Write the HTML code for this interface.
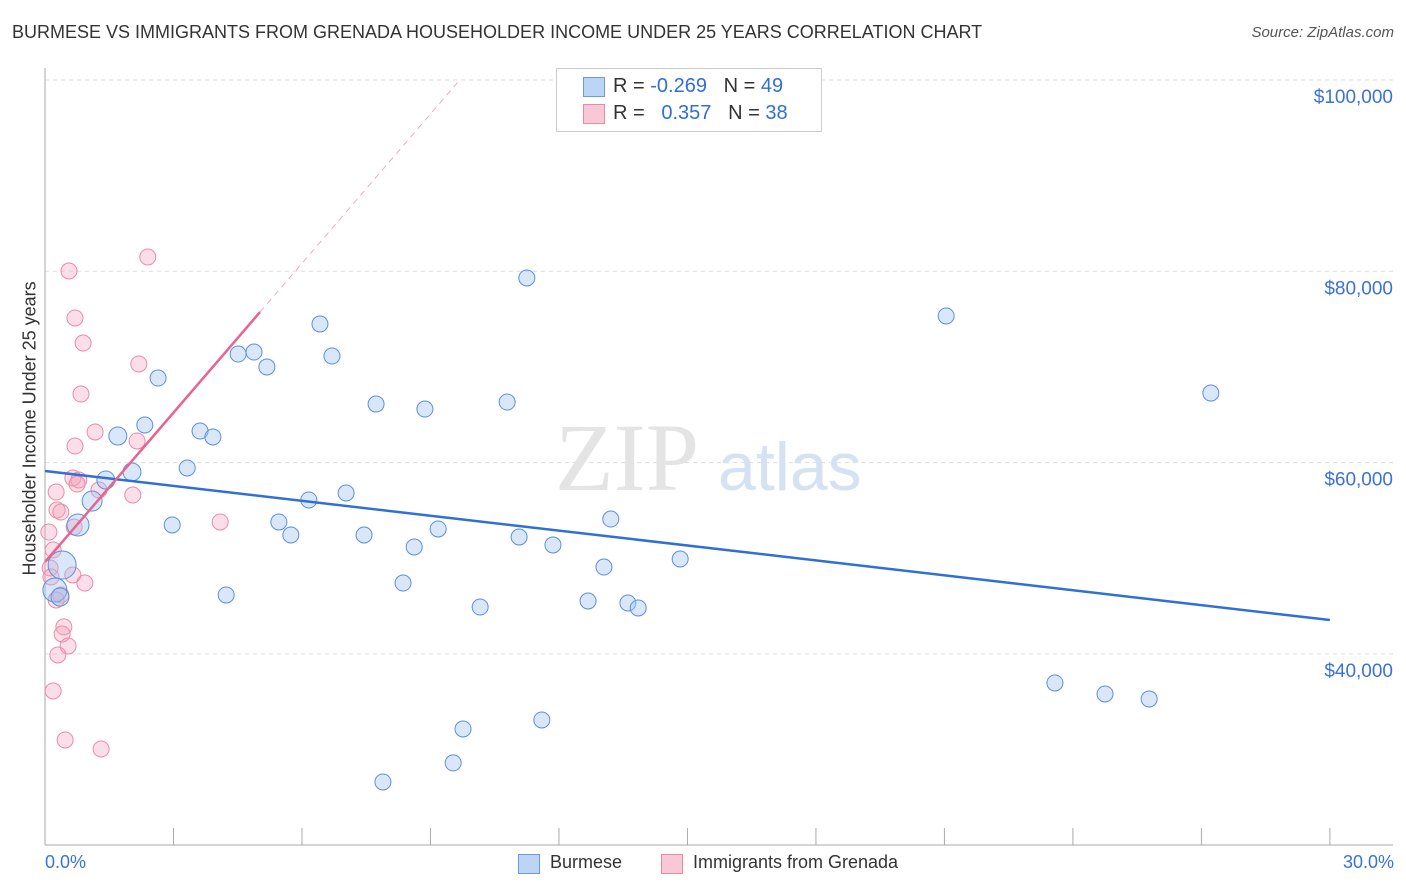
<!DOCTYPE html>
<html><head><meta charset="utf-8">
<style>
body{margin:0;background:#fff;font-family:"Liberation Sans",sans-serif;}
#wrap{position:relative;width:1406px;height:892px;overflow:hidden;}
.t{position:absolute;white-space:nowrap;}
</style></head>
<body>
<div id="wrap">
<div class="t" style="left:12px;top:22px;font-size:18px;color:#333;">BURMESE VS IMMIGRANTS FROM GRENADA HOUSEHOLDER INCOME UNDER 25 YEARS CORRELATION CHART</div>
<div class="t" style="right:12px;top:24px;font-size:15px;color:#555;font-style:italic;">Source: ZipAtlas.com</div>
<div class="t" style="left:-90px;top:445px;width:240px;text-align:center;font-size:18px;color:#333;transform:rotate(-90deg);">Householder Income Under 25 years</div>
<svg id="svg" width="1406" height="892" style="position:absolute;left:0;top:0;"></svg>
<div class="t" style="left:45px;top:852px;font-size:18px;color:#3a72d8;">0.0%</div>
<div class="t" style="right:12px;top:852px;font-size:18px;color:#3a72d8;">30.0%</div>
<div style="position:absolute;left:556px;top:68px;width:264px;height:62px;border:1px solid #ccc;background:#fff;">
 <div style="position:absolute;left:26px;top:8px;width:20px;height:18px;background:#bcd4f5;border:1px solid #6a9be0;"></div>
 <div class="t" style="left:56px;top:6px;font-size:20px;color:#333;">R = <span style="color:#2f6fd6">-0.269</span>&nbsp;&nbsp;&nbsp;N = <span style="color:#2f6fd6">49</span></div>
 <div style="position:absolute;left:26px;top:35px;width:20px;height:18px;background:#f8c8d6;border:1px solid #e88aa6;"></div>
 <div class="t" style="left:56px;top:33px;font-size:20px;color:#333;">R = &nbsp;&nbsp;<span style="color:#2f6fd6">0.357</span>&nbsp;&nbsp;&nbsp;N = <span style="color:#2f6fd6">38</span></div>
</div>
<div style="position:absolute;left:518px;top:854px;">
 <div style="position:absolute;left:0;top:0;width:20px;height:18px;background:#bcd4f5;border:1px solid #6a9be0;"></div>
 <div class="t" style="left:32px;top:-2px;font-size:18px;color:#333;">Burmese</div></div>
<div style="position:absolute;left:661px;top:854px;">
 <div style="position:absolute;left:0;top:0;width:20px;height:18px;background:#f8c8d6;border:1px solid #e88aa6;"></div>
 <div class="t" style="left:32px;top:-2px;font-size:18px;color:#333;">Immigrants from Grenada</div></div>
</div>
<script>
const yTicks=[100000,80000,60000,40000];
const yTickLabels=["$100,000","$80,000","$60,000","$40,000"];
const blueX=[11.25,21.04,27.22,6.42,4.51,4.88,6.70,5.18,2.64,7.73,8.87,10.79,2.33,1.70,3.62,3.92,3.32,2.03,1.42,1.10,6.16,7.03,0.77,2.97,5.46,5.74,7.45,9.18,13.21,8.62,11.07,11.86,14.83,0.40,13.05,8.36,0.23,0.35,4.23,10.16,12.68,13.61,13.85,23.58,24.75,25.78,11.60,9.76,9.53,7.89];
const blueY=[79300,75330,67270,74490,71350,71560,71140,70000,68840,66120,65600,66330,63930,62780,63300,62680,59440,59020,58180,55980,56090,56820,53480,53480,53790,52430,52430,53060,54100,51180,52220,51390,49920,49290,49080,47410,46680,45950,46160,44900,45530,45320,44800,36960,35810,35290,33090,32150,28600,26610];
const blueR=[8,8,8,8,8,8,8,8,8,8,8,8,8,9,8,8,8,9,9,10,8,8,11,8,8,8,8,8,8,8,8,8,8,14,8,8,12,9,8,8,8,8,8,8,8,8,8,8,8,8];
const pinkX=[2.40,0.56,0.70,0.89,2.19,0.84,1.17,2.15,0.70,0.65,0.79,0.75,1.26,2.05,0.26,0.28,0.37,4.09,0.68,0.09,0.19,0.12,0.65,0.14,0.93,0.37,0.26,0.44,0.40,0.54,0.30,0.19,0.47,1.31];
const pinkY=[81490,80030,75120,72500,70310,67170,63200,62260,61730,58390,58180,57760,57130,56610,56920,55040,54830,53790,53270,52740,50860,48980,48250,48040,47410,46160,45640,42820,42080,40830,39890,36120,31000,30060];
const blueTrend=[59120,43540];
const pinkTrend=[49610,5204];
const X=v=>45+v*42.83, Y=v=>80+(100000-v)/104.55;
const svg=document.getElementById('svg'),NS='http://www.w3.org/2000/svg';
function mk(t,a){const e=document.createElementNS(NS,t);for(const k in a)e.setAttribute(k,a[k]);svg.appendChild(e);return e;}
yTicks.forEach((v,i)=>{
 const g=mk('line',{x1:45,x2:1393,y1:Y(v),y2:Y(v),stroke:'#ddd','stroke-dasharray':'4,4'});
 
 
 const t=mk('text',{x:1393,y:Y(v)+23,'text-anchor':'end','font-size':19,fill:'#3a72d8','font-family':'Liberation Sans'});
 t.textContent=yTickLabels[i];
 
 
});
const ax=mk('line',{x1:45,x2:45,y1:68,y2:845,stroke:'#aaa'});


const bx=mk('line',{x1:45,x2:1393,y1:845,y2:845,stroke:'#aaa'});


for(let i=0;i<=10;i++){const tk=mk('line',{x1:X(i*3),x2:X(i*3),y1:828,y2:845,stroke:'#aaa'});
 
 }
const wm=mk('text',{x:555,y:490,'font-size':96,fill:'#e4e4e4','font-family':'Liberation Serif'});wm.textContent='ZIP';


const wm2=mk('text',{x:718,y:490,'font-size':68,fill:'#d4e2f4','font-family':'Liberation Sans'});wm2.textContent='atlas';


pinkX.forEach((x,i)=>{const c=mk('circle',{cx:X(x),cy:Y(pinkY[i]),r:8,fill:'rgba(244,160,186,0.35)',stroke:'#ec8aa8','stroke-width':1});
 
 });
blueX.forEach((x,i)=>{const c=mk('circle',{cx:X(x),cy:Y(blueY[i]),r:blueR[i],fill:'rgba(160,195,240,0.4)',stroke:'#5b8fe0','stroke-width':1});
 
 });
const bl=mk('line',{x1:X(0),y1:Y(blueTrend[0]),x2:X(30),y2:Y(blueTrend[1]),stroke:'#2f6fd6','stroke-width':2.5});


const pl=mk('line',{x1:X(0),y1:Y(pinkTrend[0]),x2:X(5.02),y2:Y(pinkTrend[0]+pinkTrend[1]*5.02),stroke:'#e8648e','stroke-width':2.5});


const xe=(100000-pinkTrend[0])/pinkTrend[1];
const pd=mk('line',{x1:X(5.02),y1:Y(pinkTrend[0]+pinkTrend[1]*5.02),x2:X(xe),y2:Y(100000),stroke:'#f0a8bd','stroke-width':1,'stroke-dasharray':'6,5'});


</script>
</body></html>
